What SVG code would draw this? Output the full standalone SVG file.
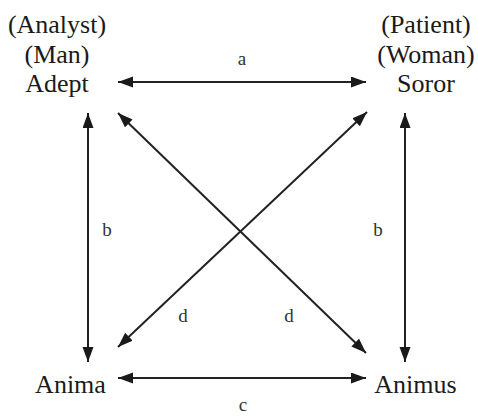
<svg xmlns="http://www.w3.org/2000/svg" width="478" height="417" viewBox="0 0 478 417">
<style>
.node{font-size:26px;fill:#1a1a1a;text-anchor:middle}
.lbl{font-size:19px;fill:#333;text-anchor:middle}
.con{stroke:#222;stroke-width:2;fill:none;marker-start:url(#ah);marker-end:url(#ah)}
</style>
<defs>
<marker id="ah" markerUnits="userSpaceOnUse" markerWidth="16" markerHeight="12" refX="15" refY="5.5" orient="auto-start-reverse">
<path d="M0,0 L15,5.5 L0,11 z" fill="#1a1a1a"/>
</marker>
</defs>
<rect width="478" height="417" fill="#fff"/>
<g id="connectors" font-family="Liberation Serif, DejaVu Serif, serif">
<line class="con" x1="118" y1="82" x2="366" y2="82"/>
<line class="con" x1="118" y1="378" x2="366" y2="378"/>
<line class="con" x1="88" y1="113" x2="88" y2="362"/>
<line class="con" x1="405" y1="113" x2="405" y2="362"/>
<line class="con" x1="118" y1="113" x2="366" y2="353"/>
<line class="con" x1="367" y1="112" x2="118" y2="347"/>
<text class="lbl" x="242" y="65">a</text>
<text class="lbl" x="107" y="236">b</text>
<text class="lbl" x="378" y="236">b</text>
<text class="lbl" x="243" y="411">c</text>
<text class="lbl" x="183" y="322">d</text>
<text class="lbl" x="289" y="322">d</text>
</g>
<g id="adept" font-family="Liberation Serif, DejaVu Serif, serif">
<text class="node" x="57" y="33">(Analyst)</text>
<text class="node" x="57" y="63">(Man)</text>
<text class="node" x="57" y="92">Adept</text>
</g>
<g id="soror" font-family="Liberation Serif, DejaVu Serif, serif">
<text class="node" x="426" y="33">(Patient)</text>
<text class="node" x="426" y="63">(Woman)</text>
<text class="node" x="426" y="92">Soror</text>
</g>
<g id="anima" font-family="Liberation Serif, DejaVu Serif, serif">
<text class="node" x="70.5" y="393">Anima</text>
</g>
<g id="animus" font-family="Liberation Serif, DejaVu Serif, serif">
<text class="node" x="415.5" y="393">Animus</text>
</g>
</svg>
